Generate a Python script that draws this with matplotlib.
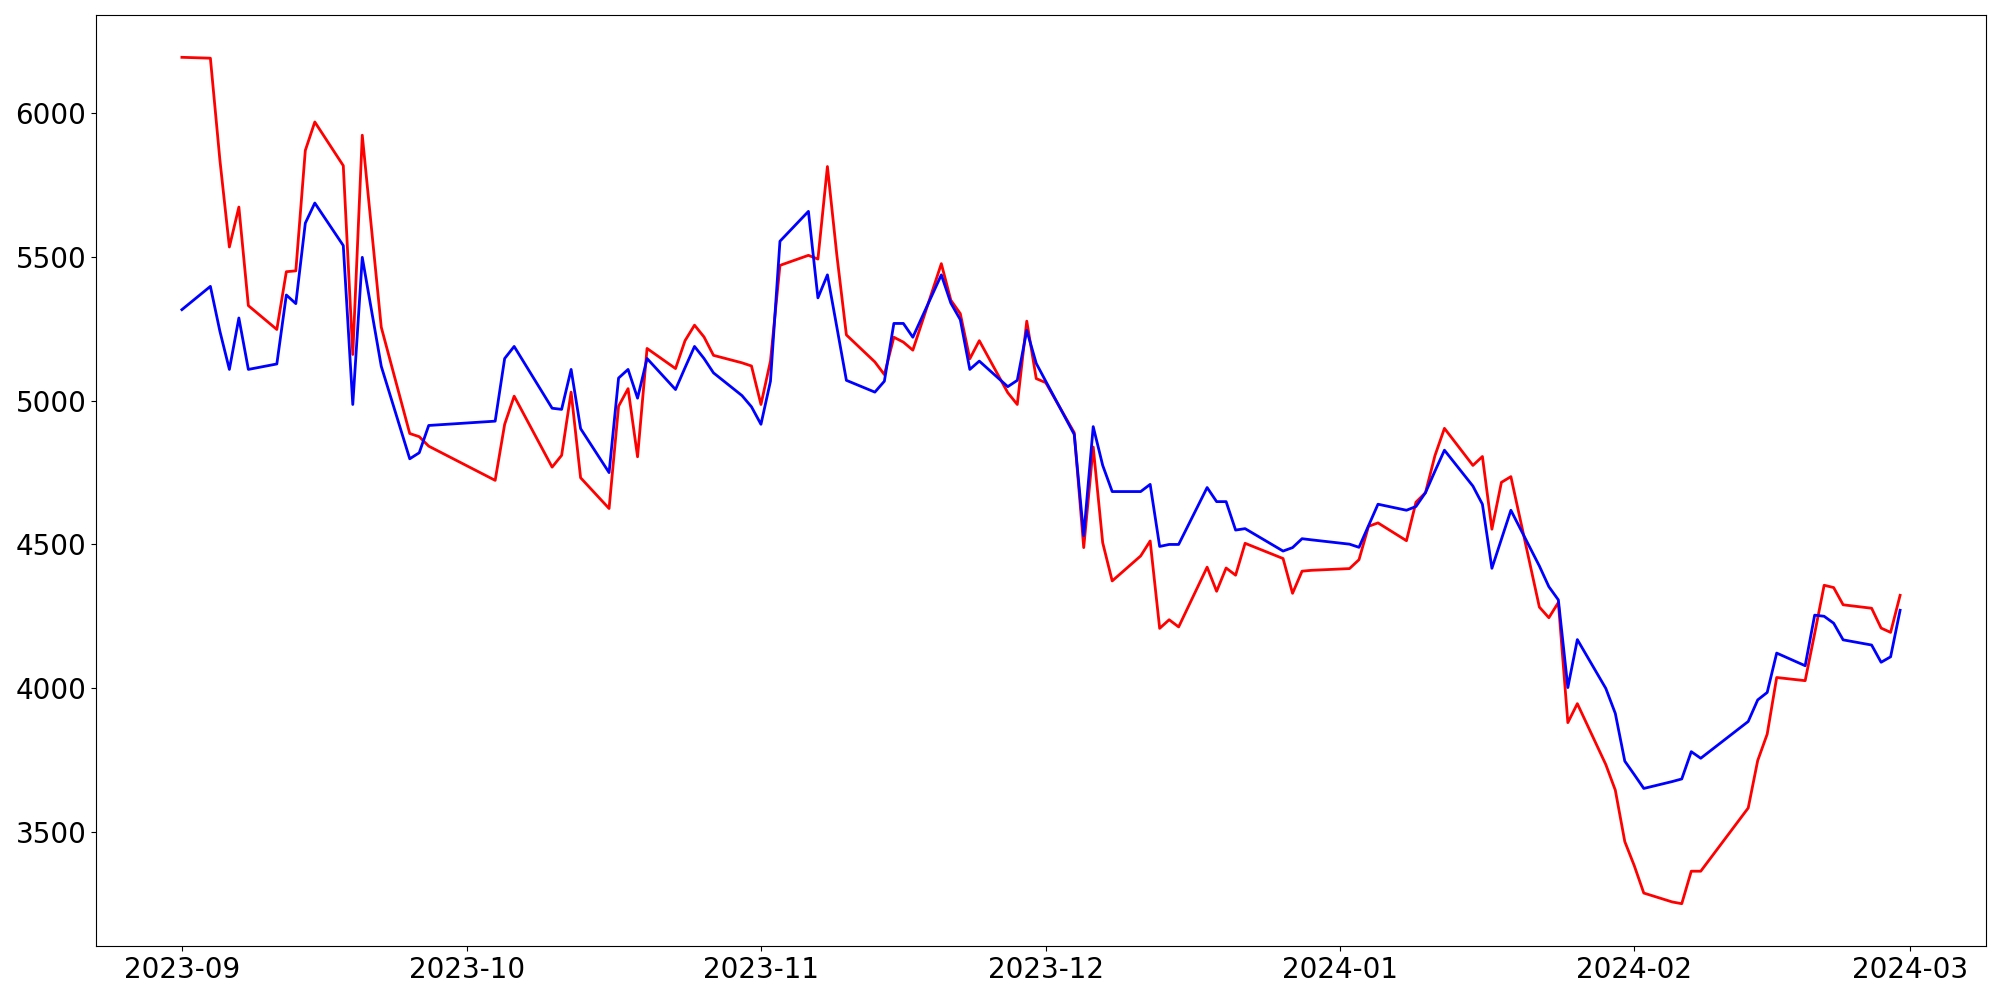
import matplotlib
matplotlib.use("Agg")
import matplotlib.pyplot as plt
import pandas as pd

# trading days shown on the chart (gaps are in the source data)
dates_sep = ["2023-09-%02d" % d for d in [1, 4, 5, 6, 7, 8, 11, 12, 13, 14, 15, 18, 19, 20, 22, 25, 26, 27]]
dates_oct = ["2023-10-%02d" % d for d in [4, 5, 6, 10, 11, 12, 13, 16, 17, 18, 19, 20, 23, 24, 25, 26, 27, 30, 31]]
dates_nov = ["2023-11-%02d" % d for d in [1, 2, 3, 6, 7, 8, 9, 10, 13, 14, 15, 16, 17, 20, 21, 22, 23, 24, 27, 28, 29, 30]]
dates_dec = ["2023-12-%02d" % d for d in [1, 4, 5, 6, 7, 8, 11, 12, 13, 14, 15, 18, 19, 20, 21, 22, 26, 27, 28, 29]]
dates_jan = ["2024-01-%02d" % d for d in [2, 3, 4, 5, 8, 9, 10, 11, 12, 15, 16, 17, 18, 19, 22, 23, 24, 25, 26, 29, 30, 31]]
dates_feb = ["2024-02-%02d" % d for d in [1, 2, 5, 6, 7, 8, 13, 14, 15, 16, 19, 20, 21, 22, 23, 26, 27, 28, 29]]
dates = pd.to_datetime(dates_sep + dates_oct + dates_nov + dates_dec + dates_jan + dates_feb)

red_values = [
    6195, 6192, 5838, 5535, 5674, 5331, 5248, 5449, 5452, 5871, 5970, 5818, 5161, 5924, 5256, 4886, 4875, 4842,
    4723, 4918, 5016, 4769, 4810, 5030, 4732, 4625, 4981, 5042, 4805, 5182, 5112, 5209, 5263, 5222, 5158, 5132, 5121,
    4987, 5138, 5471, 5506, 5493, 5815, 5505, 5229, 5135, 5091, 5221, 5204, 5176, 5477, 5350, 5303, 5146, 5209, 5028,
    4987, 5277, 5077,
    5063, 4889, 4489, 4839, 4506, 4373, 4460, 4512, 4208, 4238, 4213, 4421, 4337, 4418, 4393, 4504, 4451, 4330, 4407,
    4410,
    4416, 4447, 4563, 4575, 4513, 4647, 4680, 4809, 4904, 4775, 4806, 4553, 4716, 4736, 4282, 4245, 4298, 3880, 3946,
    3734, 3645, 3466,
    3382, 3287, 3256, 3250, 3363, 3363, 3583, 3748, 3840, 4037, 4026, 4190, 4358, 4350, 4290, 4278, 4209, 4194, 4323,
]

blue_values = [
    5317, 5398, 5242, 5109, 5288, 5109, 5128, 5368, 5338, 5618, 5688, 5540, 4987, 5499, 5120, 4798, 4819, 4914,
    4929, 5147, 5189, 4974, 4970, 5109, 4903, 4750, 5079, 5109, 5009, 5147, 5039, 5115, 5189, 5147, 5097, 5018, 4979,
    4918, 5068, 5555, 5659, 5358, 5438, 5255, 5071, 5030, 5068, 5269, 5269, 5221, 5438, 5340, 5282, 5109, 5138, 5049,
    5071, 5245, 5130,
    5068, 4883, 4530, 4910, 4775, 4684, 4684, 4709, 4493, 4500, 4500, 4698, 4649, 4649, 4550, 4555, 4477, 4489, 4520,
    4516,
    4501, 4490, 4565, 4640, 4619, 4632, 4680, 4755, 4828, 4703, 4640, 4417, 4518, 4619, 4425, 4353, 4307, 4002, 4169,
    3999, 3912, 3746,
    3699, 3651, 3675, 3684, 3779, 3756, 3884, 3959, 3985, 4122, 4078, 4254, 4250, 4226, 4168, 4150, 4090, 4109, 4271,
]

fig, ax = plt.subplots(figsize=(20, 10), dpi=100)
ax.plot(dates, red_values, color="red", linewidth=2)
ax.plot(dates, blue_values, color="blue", linewidth=2)
ax.tick_params(labelsize=20)
fig.subplots_adjust(left=0.048, right=0.993, bottom=0.054, top=0.985)
fig.savefig("out.png", dpi=100, facecolor="white")
plt.close(fig)
